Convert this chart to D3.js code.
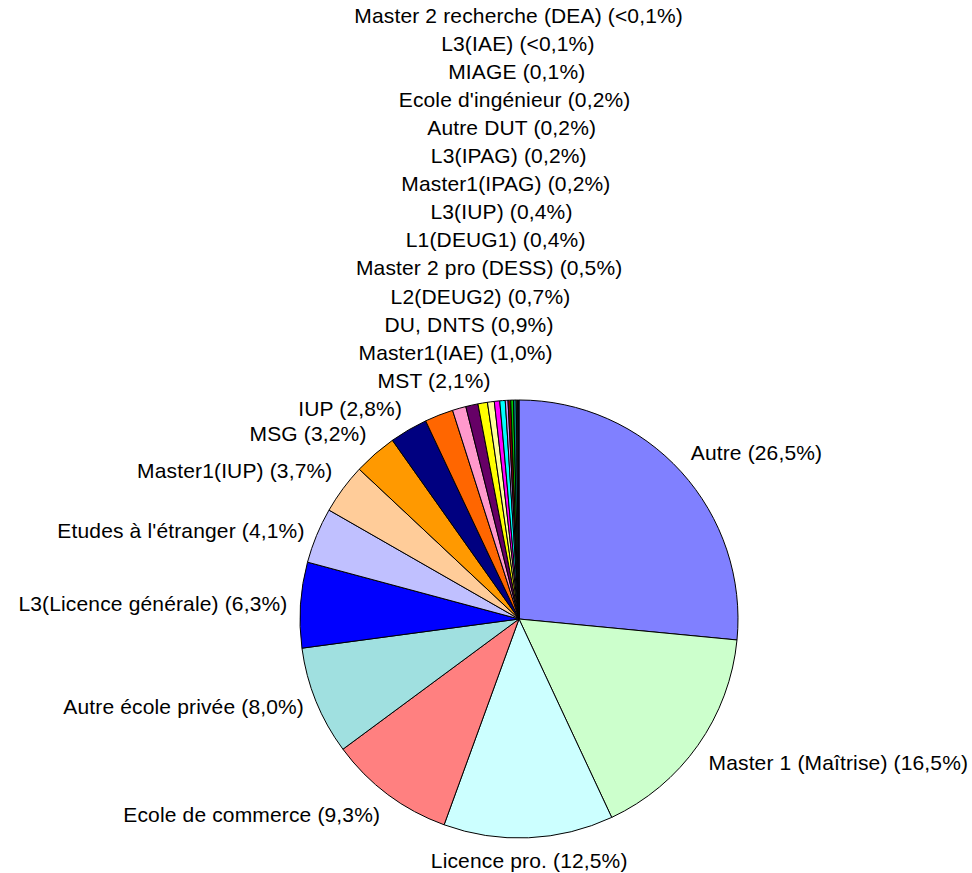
<!DOCTYPE html>
<html>
<head>
<meta charset="utf-8">
<script src="https://cdn.jsdelivr.net/npm/d3@7/dist/d3.min.js"></script>
<style>
  html, body { margin: 0; padding: 0; background: #ffffff; }
  svg { display: block; }
  .lbl { font-family: "Liberation Sans", Arial, sans-serif; font-size: 21px; letter-spacing: 0.15px; fill: #000; }
</style>
</head>
<body>
<svg id="chart" width="972" height="873"></svg>
<script>
// Formation d'origine — parts en pourcentage
const categories = [
  "Autre", "Master 1 (Maîtrise)", "Licence pro.", "Ecole de commerce",
  "Autre école privée", "L3(Licence générale)", "Etudes à l'étranger",
  "Master1(IUP)", "MSG", "IUP", "MST", "Master1(IAE)", "DU, DNTS",
  "L2(DEUG2)", "Master 2 pro (DESS)", "L1(DEUG1)", "L3(IUP)",
  "Master1(IPAG)", "L3(IPAG)", "Autre DUT", "Ecole d'ingénieur", "MIAGE",
  "L3(IAE)", "Master 2 recherche (DEA)"
];
const shares = [
  26.5, 16.5, 12.5, 9.3, 8.0, 6.3, 4.1, 3.7, 3.2, 2.8, 2.1, 1.0, 0.9,
  0.7, 0.5, 0.4, 0.4, 0.2, 0.2, 0.2, 0.2, 0.1, 0.05, 0.05
];
const sliceColors = [
  "#8080FF", "#CCFFCC", "#CCFFFF", "#FF8080", "#A0E0E0", "#0000FF",
  "#C0C0FF", "#FFCC99", "#FF9900", "#000080", "#FF6600", "#FF99CC",
  "#660066", "#FFFF00", "#FFFF99", "#FF00FF", "#00FFFF", "#CC99FF",
  "#800000", "#00CC00", "#008080", "#996633", "#3366FF", "#333399"
];

const svg = d3.select("#chart");
const W = 972, H = 873;
svg.append("rect").attr("width", W).attr("height", H).attr("fill", "#fff");

const cx = 519, cy = 619, radius = 219;
const gap = 13, boxH = 20, lineH = 28.1, minSep = 24;

const fmt = v => v < 0.1 ? "(<0,1%)" : "(" + v.toFixed(1).replace(".", ",") + "%)";

const data = categories.map((c, i) => ({ name: c, value: shares[i], color: sliceColors[i] }));
const pie = d3.pie().value(d => d.value).sort(null);
const arcs = pie(data);
const arcGen = d3.arc().innerRadius(0).outerRadius(radius);

const g = svg.append("g").attr("transform", `translate(${cx},${cy})`);
g.selectAll("path.slice")
  .data(arcs)
  .join("path")
  .attr("class", "slice")
  .attr("d", arcGen)
  .attr("fill", d => d.data.color)
  .attr("stroke", "#000")
  .attr("stroke-width", 1)
  .attr("stroke-linejoin", "round");

// Outside labels: the label box corner nearest the pie sits on a ring just
// outside the slices, at the slice's mid-angle
const labelG = svg.append("g");
const texts = labelG.selectAll("text")
  .data(arcs)
  .join("text")
  .attr("class", "lbl")
  .text(d => d.data.name + " " + fmt(d.data.value));

const boxes = [];
texts.each(function (d) {
  const w = this.getComputedTextLength();
  const t = (d.startAngle + d.endAngle) / 2;
  const s = Math.sin(t), c = Math.cos(t);
  const px = cx + (radius + gap) * s;
  const py = cy - (radius + gap) * c;
  let x0;
  if (Math.abs(s) < 0.4) x0 = px - w / 2;
  else if (s > 0) x0 = px;
  else x0 = px - w;
  let y;
  if (Math.abs(c) < 0.4) y = py;
  else if (c > 0) y = py - boxH / 2;
  else y = py + boxH / 2;
  boxes.push({ x0, x1: x0 + w, y, side: s >= 0 ? 1 : -1, node: this });
});

// Resolve overlaps: left side labels move upward, right side downward
for (let i = 1; i < boxes.length; i++) {
  const b = boxes[i], p = boxes[i - 1];
  const overlapX = b.x0 < p.x1 && p.x0 < b.x1;
  if (!overlapX) continue;
  if (b.side < 0 && p.y - b.y < minSep) b.y = p.y - lineH;
  if (b.side > 0 && p.side > 0 && b.y - p.y < minSep) b.y = p.y + lineH;
}

boxes.forEach(b => {
  d3.select(b.node).attr("x", b.x0).attr("y", b.y).attr("dy", "0.35em");
});
</script>
</body>
</html>
